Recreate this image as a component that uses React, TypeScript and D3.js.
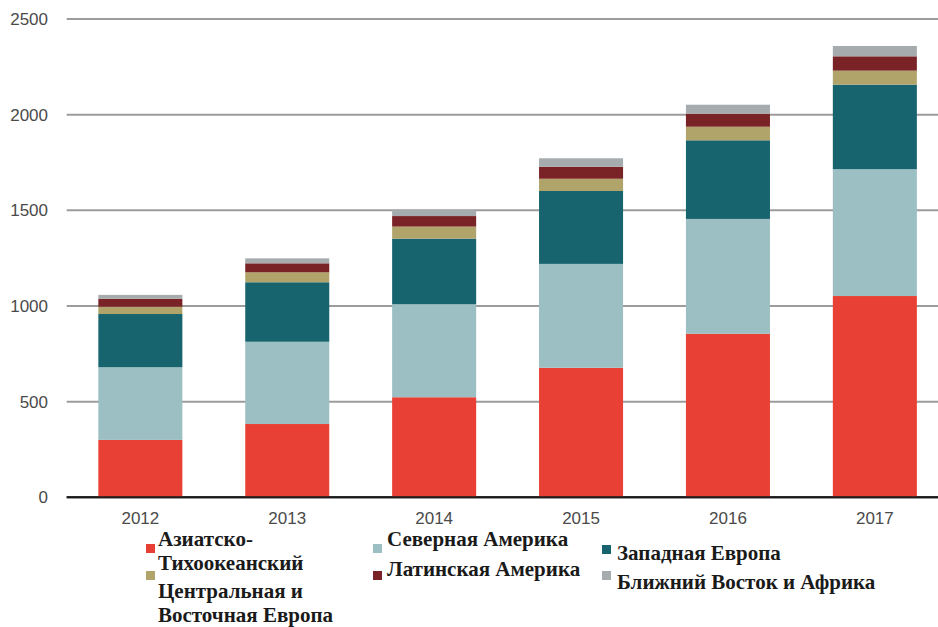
import React from "react";
import * as d3 from "d3";

const years = ["2012", "2013", "2014", "2015", "2016", "2017"];
const seriesNames = [
  "Азиатско-Тихоокеанский",
  "Северная Америка",
  "Западная Европа",
  "Центральная и Восточная Европа",
  "Латинская Америка",
  "Ближний Восток и Африка",
];
const apac = [300, 383, 523, 677, 855, 1052];
const northAmerica = [380, 430, 486, 543, 600, 663];
const westernEurope = [278, 311, 343, 381, 411, 442];
const ceEurope = [38, 52, 63, 64, 71, 73];
const latinAmerica = [42, 47, 55, 63, 68, 75];
const middleEastAfrica = [20, 26, 32, 44, 47, 54];
const yTicks = [0, 500, 1000, 1500, 2000, 2500];
const colors = ["#E84034", "#9BBFC3", "#17646E", "#B0A46A", "#7A2327", "#A6ABAE"];

const seriesValues = [apac, northAmerica, westernEurope, ceEurope, latinAmerica, middleEastAfrica];

const legendLayout = [
  { mx: 146, my: 544, tx: 158, lines: ["Азиатско-", "Тихоокеанский"], y: 546, lh: 23.5 },
  { mx: 373, my: 544, tx: 387, lines: ["Северная Америка"], y: 546, lh: 24 },
  { mx: 602, my: 545, tx: 617, lines: ["Западная Европа"], y: 560, lh: 24 },
  { mx: 146, my: 571, tx: 158, lines: ["Центральная и", "Восточная Европа"], y: 598, lh: 23.5 },
  { mx: 373, my: 571, tx: 387, lines: ["Латинская Америка"], y: 576, lh: 24 },
  { mx: 602, my: 571, tx: 617, lines: ["Ближний Восток и Африка"], y: 589, lh: 24 },
];

const serif = "'Liberation Serif'";
const sans = "'Liberation Sans'";

export default function App() {
  const W = 938, H = 627;
  const x = d3
    .scaleBand<string>()
    .domain(years)
    .range([66.9, 948.3])
    .paddingInner(0.428)
    .paddingOuter(0.214);
  const y = d3.scaleLinear().domain([0, 2500]).range([497.3, 19]);

  const table = years.map((yr, i) => {
    const row: any = { year: yr };
    seriesNames.forEach((s, j) => (row[s] = seriesValues[j][i]));
    return row;
  });
  const stack = d3.stack<any>().keys(seriesNames)(table);

  return (
    <svg width={W} height={H} style={{ position: "absolute", left: 0, top: 0, background: "#fff" }}>
      {yTicks.map((t) => (
        <g key={t}>
          <line
            x1={66.7}
            x2={938}
            y1={y(t)}
            y2={y(t)}
            stroke={t === 0 ? "#1a1a1a" : "#9c9c9c"}
            strokeWidth={2}
          />
          <text
            x={48}
            y={y(t)}
            dy="0.35em"
            textAnchor="end"
            style={{ fontFamily: sans }}
            fontSize={17}
            fill="#4a4a4a"
          >
            {t}
          </text>
        </g>
      ))}
      {stack.map((layer, j) => (
        <g key={layer.key} fill={colors[j]}>
          {layer.map((d, i) => (
            <rect
              key={i}
              x={x(years[i])}
              width={x.bandwidth()}
              y={y(d[1])}
              height={y(d[0]) - y(d[1])}
            />
          ))}
        </g>
      ))}
      <line x1={66.7} x2={938} y1={y(0)} y2={y(0)} stroke="#1a1a1a" strokeWidth={2} />
      {years.map((yr) => (
        <text
          key={yr}
          x={(x(yr) as number) + x.bandwidth() / 2}
          y={524}
          textAnchor="middle"
          style={{ fontFamily: sans }}
          fontSize={17}
          fill="#4a4a4a"
        >
          {yr}
        </text>
      ))}
      {legendLayout.map((l, j) => (
        <g key={j}>
          <rect x={l.mx} y={l.my} width={9} height={9} fill={colors[j]} />
          {l.lines.map((ln, k) => (
            <text
              key={k}
              x={l.tx}
              y={l.y + k * l.lh}
              style={{ fontFamily: serif, fontWeight: 700 }}
              fontSize={21}
              fill="#1a1a1a"
            >
              {ln}
            </text>
          ))}
        </g>
      ))}
    </svg>
  );
}
